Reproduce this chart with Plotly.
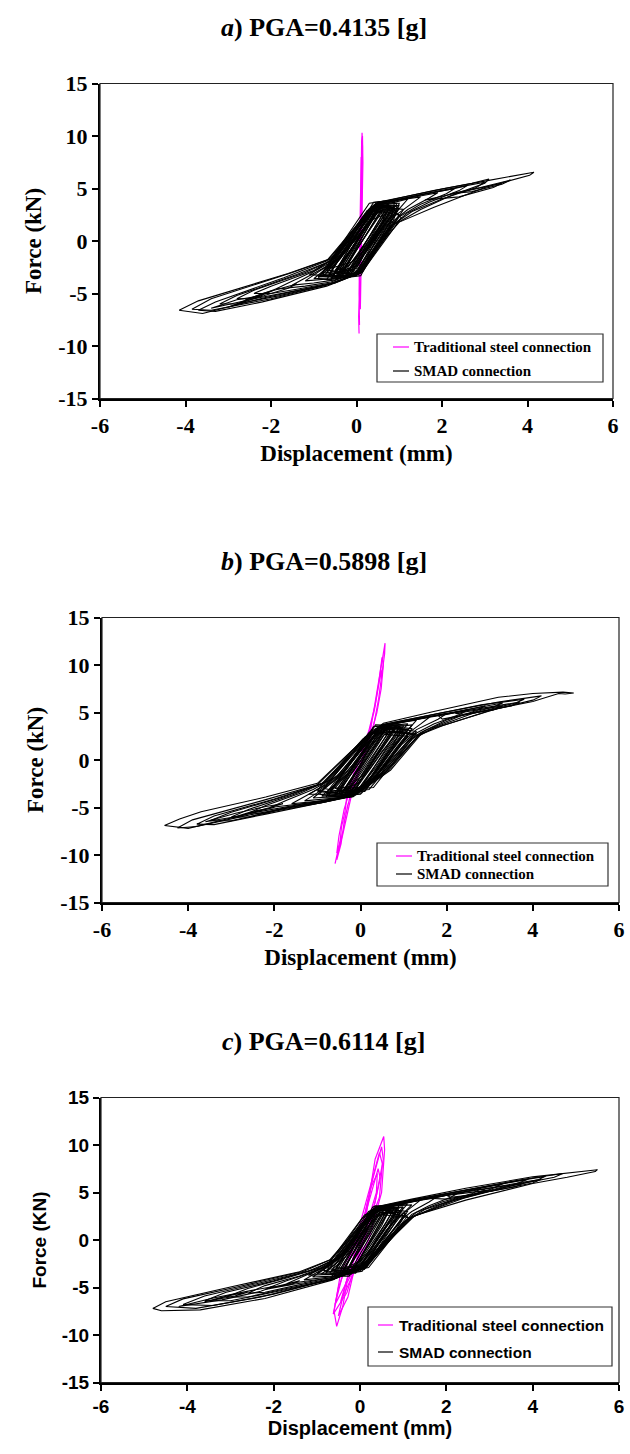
import plotly.graph_objects as go

W, H = 630, 1454

# ---------------- data ----------------
TICK_X = [-6, -4, -2, 0, 2, 4, 6]
TICK_Y = [-15, -10, -5, 0, 5, 10, 15]
TITLES = ["<i>a</i>) PGA=0.4135 [g]", "<i>b</i>) PGA=0.5898 [g]", "<i>c</i>) PGA=0.6114 [g]"]
Y_TITLES = ["Force (kN)", "Force (kN)", "Force (KN)"]
X_TITLE = "Displacement (mm)"
SERIES_NAMES = ["Traditional steel connection", "SMAD connection"]

# Panel a: SMAD loops (displacement mm, force kN)
A_SMAD = [
    [(-4.15,-6.6),(-3.7,-5.7),(-1.6,-3.1),(-0.65,-1.75),(0.5,3.7),(2.0,4.95),(3.0,5.7),(3.9,6.4),(4.15,6.55),(4.05,6.25),(3.0,5.1),(1.8,3.2),(1.0,1.8),(0.7,0.4),(0.05,-3.1),(-0.55,-4.0),(-2.1,-5.35),(-3.6,-6.9),(-4.15,-6.6)],
    [(-3.85,-6.5),(-3.4,-5.5),(-1.5,-3.0),(-0.6,-1.7),(0.45,3.6),(1.8,4.8),(2.7,5.5),(3.1,5.9),(3.0,5.5),(2.2,4.3),(1.5,3.0),(0.9,1.6),(0.1,-3.0),(-0.6,-4.1),(-2.0,-5.5),(-3.4,-6.6),(-3.85,-6.5)],
    [(-3.7,-6.6),(-3.3,-5.8),(-1.7,-3.5),(-0.7,-1.9),(0.4,3.4),(1.7,4.6),(2.6,5.3),(3.0,5.6),(2.8,5.1),(2.0,4.0),(1.3,2.8),(0.8,1.4),(0.0,-3.2),(-0.7,-4.3),(-2.2,-5.8),(-3.3,-6.7),(-3.7,-6.6)],
    [(-3.2,-6.0),(-2.8,-5.2),(-1.4,-3.2),(-0.6,-1.9),(0.45,3.5),(1.5,4.4),(2.3,5.0),(2.6,5.3),(2.4,4.8),(1.7,3.7),(1.2,2.7),(0.85,1.5),(0.05,-3.0),(-0.6,-4.1),(-1.8,-5.2),(-2.8,-6.0),(-3.2,-6.0)],
    [(-2.8,-5.5),(-2.4,-4.7),(-1.2,-3.0),(-0.55,-1.8),(0.5,3.6),(1.4,4.3),(2.0,4.8),(2.3,5.0),(2.1,4.5),(1.5,3.5),(1.0,2.3),(0.8,1.3),(0.1,-3.0),(-0.5,-4.0),(-1.5,-4.8),(-2.4,-5.5),(-2.8,-5.5)],
    [(-2.4,-5.0),(-2.0,-4.3),(-1.0,-2.8),(-0.5,-1.6),(0.45,3.5),(1.2,4.1),(1.7,4.5),(1.9,4.6),(1.7,4.1),(1.2,3.0),(0.8,1.7),(0.7,1.0),(0.0,-3.2),(-0.6,-4.0),(-1.4,-4.6),(-2.0,-5.0),(-2.4,-5.0)],
    [(-1.9,-4.6),(-1.5,-3.8),(-0.9,-2.7),(-0.5,-1.8),(0.4,3.3),(1.0,3.9),(1.5,4.2),(1.3,3.6),(0.9,2.4),(0.65,1.2),(0.0,-3.0),(-0.6,-3.9),(-1.2,-4.3),(-1.9,-4.6)],
    [(-1.5,-4.2),(-1.1,-3.3),(-0.6,-2.2),(-0.3,-1.2),(0.5,3.4),(0.9,3.7),(1.2,4.0),(1.05,3.3),(0.75,2.0),(0.5,0.5),(0.1,-2.8),(-0.5,-3.7),(-1.0,-4.0),(-1.5,-4.2)],
    [(-1.2,-3.8),(-0.9,-3.0),(-0.55,-2.0),(0.35,3.0),(0.75,3.5),(0.95,3.6),(0.8,2.6),(0.55,1.0),(0.0,-3.0),(-0.6,-3.6),(-1.2,-3.8)],
    [(-1.0,-3.6),(-0.7,-2.6),(-0.4,-1.6),(0.4,2.9),(0.8,3.3),(0.7,2.2),(0.4,0.5),(-0.1,-2.9),(-0.6,-3.5),(-1.0,-3.6)],
    [(-0.9,-3.4),(-0.6,-2.3),(-0.3,-1.0),(0.3,2.4),(0.7,3.1),(0.85,3.2),(0.6,1.6),(0.3,-0.3),(0.0,-2.6),(-0.5,-3.3),(-0.9,-3.4)],
    [(-0.8,-3.2),(-0.5,-2.0),(0.0,0.2),(0.45,2.8),(0.75,3.0),(0.55,1.3),(0.2,-0.8),(-0.1,-2.5),(-0.5,-3.1),(-0.8,-3.2)],
    [(-0.7,-3.0),(-0.4,-1.8),(0.1,0.8),(0.5,2.7),(0.9,3.0),(0.7,1.8),(0.35,0.0),(0.05,-2.3),(-0.4,-2.9),(-0.7,-3.0)],
    [(-0.6,-2.6),(-0.3,-1.2),(0.2,1.4),(0.55,3.0),(0.65,2.0),(0.3,-0.4),(-0.1,-2.0),(-0.6,-2.6)],
    [(-1.1,-3.2),(-0.7,-2.1),(-0.2,0.0),(0.3,2.6),(0.6,3.2),(1.0,3.4),(0.9,2.7),(0.6,1.0),(0.2,-1.2),(-0.2,-2.8),(-0.7,-3.3),(-1.1,-3.2)],
    [(-0.5,-2.8),(-0.1,-0.6),(0.35,2.0),(0.7,2.6),(0.5,1.2),(0.1,-1.0),(-0.2,-2.4),(-0.5,-2.8)],
    [(-0.85,-3.4),(0.35,3.3),(0.6,3.6),(-0.55,-3.3),(-0.85,-3.4)],
    [(-0.75,-3.3),(0.4,3.0),(0.7,3.4),(-0.45,-3.5),(-0.75,-3.3)],
    [(-0.65,-3.2),(0.45,3.2),(0.8,3.3),(-0.35,-3.4),(-0.65,-3.2)],
    [(-0.55,-3.4),(0.55,3.5),(0.85,3.2),(-0.25,-3.3),(-0.55,-3.4)],
    [(-0.45,-3.3),(0.6,3.4),(0.9,3.0),(-0.15,-3.2),(-0.45,-3.3)],
    [(-0.35,-3.1),(0.65,3.3),(0.95,2.8),(-0.05,-3.1),(-0.35,-3.1)],
    [(-0.25,-3.2),(0.7,3.1),(1.0,2.5),(0.0,-3.0),(-0.25,-3.2)],
    [(-0.7,-2.8),(0.25,2.9),(0.55,3.4),(-0.3,-2.9),(-0.7,-2.8)],
    [(-0.6,-2.9),(0.3,3.1),(0.75,3.5),(-0.2,-3.0),(-0.6,-2.9)],
    [(-0.5,-3.0),(0.4,3.4),(0.9,3.4),(-0.1,-3.1),(-0.5,-3.0)],
    [(-0.4,-2.7),(0.5,3.0),(1.0,3.1),(0.05,-2.9),(-0.4,-2.7)],
    [(-0.8,-3.0),(0.2,2.6),(0.45,3.0),(-0.4,-3.1),(-0.8,-3.0)],
    [(-0.3,-2.9),(0.55,2.8),(0.85,2.6),(-0.1,-2.7),(-0.3,-2.9)],
    [(-0.9,-3.6),(0.3,3.6),(0.65,3.8),(-0.6,-3.7),(-0.9,-3.6)],
    [(-0.2,-3.3),(0.75,3.2),(1.05,2.2),(0.1,-3.1),(-0.2,-3.3)],
    [(-0.5,-3.5),(0.5,3.6),(1.0,3.6),(0.85,1.8),(0.05,-3.2),(-0.5,-3.5)],
    [(-0.6,-3.6),(0.45,3.5),(0.95,3.3),(0.75,1.2),(0.0,-3.3),(-0.6,-3.6)],
    [(-0.4,-3.4),(0.55,3.3),(1.1,3.0),(0.9,1.8),(0.15,-2.9),(-0.4,-3.4)],
    [(-0.7,-3.7),(0.4,3.7),(0.9,3.9),(0.8,2.0),(0.1,-3.3),(-0.7,-3.7)],
    [(1.6,3.9),(2.5,4.7),(3.4,5.5),(3.2,5.1),(2.4,4.2),(1.6,3.9)],
    [(2.2,4.5),(2.9,5.1),(3.6,5.8),(3.4,5.4),(2.7,4.7),(2.2,4.5)],
    [(-3.0,-6.3),(-2.2,-5.0),(-1.4,-4.1),(-1.6,-4.5),(-2.4,-5.5),(-3.0,-6.3)],
    [(-2.6,-5.6),(-1.9,-4.6),(-2.1,-5.0),(-2.6,-5.6)],
    [(-3.4,-6.4),(-2.8,-5.6),(-2.2,-5.2),(-2.5,-5.6),(-3.4,-6.4)],
]
# Panel a: traditional connection (nearly vertical line)
A_TRAD = [
    [(0.06,-8.8),(0.05,-7.2),(0.08,-3.0),(0.11,2.0),(0.12,6.0),(0.12,8.5),(0.13,10.3),(0.14,9.0),(0.13,5.0),(0.11,0.0),(0.08,-4.0),(0.06,-7.6),(0.07,-6.0),(0.10,-1.0),(0.12,4.0),(0.11,8.0),(0.10,6.5),(0.08,1.0),(0.06,-5.0),(0.07,-8.0)],
    [(0.09,-6.5),(0.12,1.5),(0.15,7.5),(0.14,10.0),(0.12,9.5),(0.10,3.0),(0.07,-3.5),(0.09,-6.5)],
]

# Panel b: SMAD loops
B_SMAD = [
    [(-4.55,-6.9),(-4.2,-6.2),(-3.7,-5.45),(-2.2,-3.9),(-1.0,-2.45),(0.14,2.45),(0.53,3.86),(1.7,5.1),(3.2,6.6),(4.0,7.0),(4.7,7.15),(4.95,7.05),(4.75,6.95),(4.6,7.0),(4.0,6.15),(3.2,5.45),(1.7,3.35),(1.42,2.8),(0.7,-1.05),(-0.17,-3.86),(-0.63,-4.05),(-2.55,-5.6),(-4.0,-7.2),(-4.55,-6.9)],
    [(-4.25,-7.15),(-3.9,-6.3),(-2.3,-4.3),(-1.0,-2.6),(0.1,2.3),(0.5,3.7),(1.8,4.9),(3.2,6.1),(4.2,6.75),(4.0,6.3),(3.0,5.2),(1.9,3.6),(1.35,2.6),(0.6,-1.2),(-0.25,-3.9),(-0.7,-4.2),(-2.6,-5.8),(-3.8,-7.0),(-4.25,-7.15)],
    [(-3.8,-6.75),(-3.4,-5.9),(-2.0,-4.1),(-0.9,-2.5),(0.2,2.6),(0.55,3.75),(1.6,4.7),(2.8,5.8),(3.8,6.4),(3.6,6.0),(2.6,4.9),(1.7,3.4),(1.3,2.4),(0.55,-1.3),(-0.2,-3.8),(-0.8,-4.4),(-2.2,-5.7),(-3.4,-6.8),(-3.8,-6.75)],
    [(-3.5,-6.4),(-3.0,-5.5),(-1.8,-3.9),(-0.85,-2.4),(0.15,2.4),(0.5,3.6),(1.5,4.5),(2.6,5.4),(3.3,6.0),(3.1,5.6),(2.3,4.6),(1.5,3.1),(1.2,2.2),(0.5,-1.4),(-0.25,-3.9),(-0.9,-4.5),(-2.0,-5.4),(-3.0,-6.4),(-3.5,-6.4)],
    [(-3.0,-6.0),(-2.6,-5.2),(-1.6,-3.7),(-0.8,-2.3),(0.2,2.6),(0.55,3.7),(1.4,4.4),(2.3,5.1),(2.9,5.7),(2.7,5.2),(2.0,4.2),(1.4,2.9),(1.1,2.0),(0.45,-1.5),(-0.2,-3.8),(-0.9,-4.4),(-1.9,-5.2),(-2.6,-6.0),(-3.0,-6.0)],
    [(-2.6,-5.6),(-2.2,-4.8),(-1.4,-3.5),(-0.75,-2.2),(0.1,2.2),(0.5,3.6),(1.3,4.3),(2.0,4.8),(2.5,5.3),(2.3,4.8),(1.7,3.8),(1.2,2.6),(0.95,1.6),(0.4,-1.6),(-0.3,-3.9),(-0.9,-4.5),(-1.7,-5.0),(-2.2,-5.6),(-2.6,-5.6)],
    [(-2.1,-5.0),(-1.7,-4.2),(-1.1,-3.1),(-0.7,-2.1),(0.2,2.5),(0.5,3.5),(1.1,4.1),(1.6,4.5),(2.0,4.9),(1.8,4.3),(1.3,3.2),(1.0,2.0),(0.8,1.0),(0.35,-1.7),(-0.2,-3.7),(-0.8,-4.3),(-1.5,-4.7),(-2.1,-5.0)],
    [(-1.6,-4.6),(-1.2,-3.6),(-0.8,-2.6),(-0.5,-1.5),(0.25,2.7),(0.55,3.6),(1.1,4.1),(1.6,4.5),(1.4,3.8),(1.1,2.8),(0.85,1.4),(0.3,-1.9),(-0.3,-3.8),(-0.9,-4.3),(-1.6,-4.6)],
    [(-1.3,-4.3),(-0.95,-3.3),(-0.6,-2.2),(-0.3,-0.8),(0.3,2.8),(0.6,3.7),(1.0,4.0),(1.3,4.2),(1.15,3.4),(0.9,2.2),(0.6,0.6),(0.2,-2.2),(-0.35,-3.9),(-0.8,-4.1),(-1.3,-4.3)],
    [(-1.1,-4.0),(-0.8,-2.9),(-0.4,-1.3),(0.1,1.5),(0.45,3.3),(0.8,3.7),(1.1,3.8),(0.95,3.0),(0.7,1.5),(0.35,-0.8),(0.0,-2.8),(-0.4,-3.8),(-1.1,-4.0)],
    [(-0.9,-3.8),(-0.6,-2.6),(-0.2,-0.6),(0.2,1.9),(0.5,3.2),(0.9,3.5),(0.75,2.4),(0.45,0.5),(0.1,-1.6),(-0.15,-3.3),(-0.5,-3.7),(-0.9,-3.8)],
    [(-0.8,-3.5),(-0.45,-2.0),(-0.05,0.2),(0.35,2.6),(0.7,3.3),(0.95,3.4),(0.8,2.5),(0.5,0.9),(0.15,-1.3),(-0.2,-3.2),(-0.8,-3.5)],
    [(-0.7,-3.3),(-0.3,-1.4),(0.1,1.0),(0.45,2.8),(0.8,3.1),(0.6,1.8),(0.25,-0.4),(-0.05,-2.4),(-0.4,-3.2),(-0.7,-3.3)],
    [(-1.2,-3.6),(-0.9,-2.8),(-0.55,-1.7),(-0.1,0.6),(0.3,2.5),(0.65,3.4),(1.2,3.7),(1.05,2.9),(0.75,1.2),(0.4,-1.0),(0.0,-3.0),(-0.55,-3.6),(-1.2,-3.6)],
    [(-0.6,-3.0),(-0.2,-0.9),(0.2,1.4),(0.55,2.9),(0.7,2.6),(0.4,0.6),(0.05,-1.6),(-0.25,-2.8),(-0.6,-3.0)],
    [(-1.0,-3.3),(-0.7,-2.4),(-0.35,-1.0),(0.05,1.2),(0.4,3.0),(0.75,3.6),(1.0,3.2),(0.8,2.0),(0.5,0.0),(0.2,-2.0),(-0.1,-3.4),(-0.6,-3.5),(-1.0,-3.3)],
    [(-0.95,-3.6),(0.2,2.9),(0.5,3.7),(-0.6,-3.8),(-0.95,-3.6)],
    [(-0.8,-3.5),(0.3,3.0),(0.65,3.6),(-0.45,-3.7),(-0.8,-3.5)],
    [(-0.7,-3.3),(0.35,3.2),(0.8,3.5),(-0.3,-3.8),(-0.7,-3.3)],
    [(-0.6,-3.5),(0.45,3.4),(0.95,3.3),(-0.15,-3.7),(-0.6,-3.5)],
    [(-0.5,-3.4),(0.5,3.3),(1.05,3.1),(0.0,-3.5),(-0.5,-3.4)],
    [(-0.4,-3.2),(0.55,3.1),(1.15,2.9),(0.1,-3.3),(-0.4,-3.2)],
    [(-0.3,-3.3),(0.6,3.0),(1.25,2.7),(0.2,-3.1),(-0.3,-3.3)],
    [(-0.85,-3.0),(0.1,2.4),(0.45,3.3),(-0.35,-3.4),(-0.85,-3.0)],
    [(-0.65,-2.9),(0.25,2.7),(0.7,3.3),(-0.2,-3.2),(-0.65,-2.9)],
    [(-0.55,-3.1),(0.4,3.1),(0.9,3.4),(-0.05,-3.4),(-0.55,-3.1)],
    [(-0.45,-2.9),(0.5,2.9),(1.0,3.0),(0.05,-3.0),(-0.45,-2.9)],
    [(-0.35,-3.0),(0.55,2.7),(1.1,2.5),(0.15,-2.8),(-0.35,-3.0)],
    [(-1.0,-3.2),(0.05,2.2),(0.4,3.2),(-0.5,-3.5),(-1.0,-3.2)],
    [(-0.25,-3.1),(0.65,2.9),(1.3,2.8),(0.3,-2.9),(-0.25,-3.1)],
    [(-0.75,-3.8),(0.3,3.5),(0.85,3.7),(-0.25,-3.9),(-0.75,-3.8)],
    [(-0.2,-3.7),(0.7,3.0),(1.35,2.6),(0.65,-1.1),(-0.1,-3.6),(-0.2,-3.7)],
    [(-0.6,-3.8),(0.45,3.6),(1.2,3.3),(0.9,1.6),(0.5,-1.3),(0.0,-3.6),(-0.6,-3.8)],
    [(-0.45,-3.6),(0.55,3.5),(1.3,3.0),(0.8,0.5),(0.3,-2.0),(-0.15,-3.7),(-0.45,-3.6)],
    [(-0.35,-3.5),(0.6,3.4),(1.1,3.2),(0.7,0.8),(0.2,-2.4),(-0.1,-3.5),(-0.35,-3.5)],
    [(-0.8,-3.9),(0.35,3.7),(1.0,3.6),(0.75,1.5),(0.35,-1.2),(-0.2,-3.9),(-0.8,-3.9)],
    [(1.8,4.7),(2.6,5.3),(3.4,5.9),(3.7,6.1),(3.5,5.7),(2.7,5.0),(1.9,4.3),(1.8,4.7)],
    [(2.2,4.9),(3.0,5.5),(3.3,5.7),(3.1,5.3),(2.4,4.8),(2.2,4.9)],
    [(-3.6,-6.5),(-2.9,-5.6),(-2.2,-4.9),(-1.8,-4.6),(-2.1,-5.0),(-2.8,-5.9),(-3.6,-6.5)],
    [(-3.0,-6.1),(-2.5,-5.4),(-2.0,-5.0),(-2.3,-5.3),(-3.0,-6.1)],
]
# Panel b: traditional connection
B_TRAD = [
    [(-0.59,-10.9),(-0.52,-9.6),(-0.47,-8.4),(-0.44,-7.0),(-0.36,-5.5),(-0.32,-3.9),(-0.1,-0.5),(0.22,2.8),(0.3,4.9),(0.36,6.5),(0.4,7.5),(0.45,9.0),(0.5,10.3),(0.55,11.5),(0.57,12.3),(0.56,11.2),(0.52,9.8),(0.47,8.2),(0.42,6.4),(0.3,3.5),(0.0,-0.5),(-0.3,-4.8),(-0.4,-7.4),(-0.48,-9.2),(-0.55,-10.5),(-0.52,-10.0),(-0.45,-8.8),(-0.38,-6.5),(-0.2,-3.0),(0.1,1.0),(0.32,5.2),(0.44,8.4),(0.5,9.5)],
    [(-0.55,-9.8),(-0.5,-8.0),(-0.38,-5.2),(-0.1,-1.0),(0.2,3.2),(0.34,5.8),(0.42,8.0),(0.5,10.8),(0.53,10.0),(0.48,7.5),(0.38,5.0),(0.15,1.2),(-0.2,-3.5),(-0.42,-8.0),(-0.55,-9.8)],
]

# Panel c: SMAD loops
C_SMAD = [
    [(-4.8,-7.2),(-4.5,-6.5),(-2.95,-4.9),(-1.4,-3.35),(-0.7,-2.1),(-0.17,0.7),(0.38,3.5),(1.2,4.3),(2.45,5.45),(4.0,6.65),(5.0,7.2),(5.5,7.4),(5.45,7.2),(4.8,6.6),(4.0,5.95),(2.45,4.2),(1.3,2.6),(1.2,2.3),(0.84,0.7),(0.14,-2.8),(-0.48,-3.85),(-0.63,-4.2),(-2.2,-6.15),(-3.7,-7.35),(-4.6,-7.45),(-4.8,-7.2)],
    [(-4.5,-7.0),(-4.1,-6.2),(-2.8,-4.9),(-1.3,-3.3),(-0.65,-2.0),(-0.1,0.9),(0.4,3.5),(1.3,4.3),(2.6,5.4),(3.8,6.4),(4.7,7.0),(4.5,6.6),(3.6,5.8),(2.4,4.4),(1.25,2.5),(0.8,0.5),(0.1,-2.9),(-0.5,-3.9),(-2.3,-6.0),(-3.8,-7.2),(-4.5,-7.0)],
    [(-4.1,-6.8),(-3.6,-5.9),(-2.4,-4.6),(-1.2,-3.3),(-0.6,-2.1),(-0.1,0.8),(0.35,3.4),(1.2,4.2),(2.5,5.3),(3.6,6.2),(4.3,6.7),(4.1,6.3),(3.3,5.5),(2.2,4.2),(1.2,2.4),(0.75,0.4),(0.05,-3.0),(-0.55,-4.0),(-2.0,-5.7),(-3.4,-6.9),(-4.1,-6.8)],
    [(-3.6,-6.4),(-3.1,-5.5),(-2.0,-4.3),(-1.0,-3.0),(-0.55,-1.9),(0.0,1.2),(0.4,3.4),(1.1,4.0),(2.3,5.1),(3.3,5.9),(3.9,6.4),(3.6,5.9),(2.8,5.0),(1.9,3.8),(1.1,2.2),(0.7,0.2),(0.0,-3.1),(-0.6,-4.1),(-1.9,-5.4),(-3.0,-6.4),(-3.6,-6.4)],
    [(-3.1,-6.0),(-2.6,-5.1),(-1.7,-4.0),(-0.9,-2.9),(-0.5,-1.8),(0.05,1.4),(0.35,3.3),(1.1,4.0),(2.2,4.9),(3.3,5.9),(3.0,5.3),(2.2,4.3),(1.5,3.2),(1.05,2.0),(0.6,-0.1),(0.0,-3.0),(-0.6,-4.1),(-1.7,-5.1),(-2.6,-6.0),(-3.1,-6.0)],
    [(-2.6,-5.6),(-2.2,-4.8),(-1.4,-3.8),(-0.8,-2.8),(-0.45,-1.6),(0.1,1.7),(0.4,3.4),(1.0,3.9),(1.9,4.6),(2.8,5.4),(2.6,4.9),(1.9,4.0),(1.3,2.9),(0.95,1.6),(0.5,-0.6),(-0.05,-3.1),(-0.6,-4.0),(-1.5,-4.8),(-2.2,-5.5),(-2.6,-5.6)],
    [(-2.1,-5.0),(-1.7,-4.3),(-1.1,-3.4),(-0.7,-2.6),(-0.35,-1.2),(0.15,2.0),(0.45,3.4),(1.0,3.9),(1.7,4.4),(2.3,5.0),(2.1,4.5),(1.6,3.6),(1.2,2.7),(0.9,1.2),(0.45,-1.0),(-0.1,-3.2),(-0.6,-3.9),(-1.3,-4.5),(-2.1,-5.0)],
    [(-1.7,-4.6),(-1.3,-3.8),(-0.9,-3.0),(-0.6,-2.2),(-0.2,-0.4),(0.2,2.4),(0.45,3.4),(1.0,3.8),(1.8,4.6),(1.6,4.0),(1.2,3.0),(1.0,2.3),(0.7,0.6),(0.3,-1.5),(-0.15,-3.4),(-0.7,-4.0),(-1.2,-4.3),(-1.7,-4.6)],
    [(-1.3,-4.2),(-1.0,-3.4),(-0.65,-2.5),(-0.3,-1.0),(0.1,1.6),(0.4,3.2),(0.8,3.7),(1.4,4.2),(1.2,3.5),(0.95,2.6),(0.7,1.1),(0.3,-1.2),(-0.2,-3.5),(-0.7,-3.9),(-1.3,-4.2)],
    [(-1.1,-3.9),(-0.8,-3.0),(-0.45,-1.8),(-0.1,0.3),(0.25,2.6),(0.5,3.4),(0.9,3.7),(1.1,3.8),(0.95,3.0),(0.8,2.1),(0.55,0.6),(0.2,-1.6),(-0.25,-3.6),(-0.6,-3.8),(-1.1,-3.9)],
    [(-0.9,-3.6),(-0.6,-2.6),(-0.25,-1.0),(0.1,1.5),(0.35,3.0),(0.7,3.4),(0.9,3.3),(0.75,2.4),(0.5,0.8),(0.2,-1.2),(-0.15,-3.2),(-0.5,-3.6),(-0.9,-3.6)],
    [(-0.8,-3.4),(-0.45,-2.1),(-0.1,-0.2),(0.25,2.2),(0.55,3.1),(0.85,3.2),(0.7,2.0),(0.4,0.0),(0.05,-2.0),(-0.25,-3.3),(-0.8,-3.4)],
    [(-0.65,-3.2),(-0.3,-1.6),(0.05,0.6),(0.35,2.4),(0.65,2.9),(0.5,1.5),(0.2,-0.6),(-0.1,-2.6),(-0.4,-3.2),(-0.65,-3.2)],
    [(-1.2,-3.7),(-0.85,-2.9),(-0.5,-2.0),(-0.2,-0.3),(0.2,2.1),(0.45,3.2),(0.85,3.6),(1.2,3.7),(1.0,2.8),(0.85,2.2),(0.6,1.0),(0.3,-1.0),(-0.1,-3.3),(-0.55,-3.6),(-1.2,-3.7)],
    [(-0.55,-3.0),(-0.2,-1.0),(0.15,1.2),(0.45,2.7),(0.75,3.0),(0.6,1.8),(0.3,-0.2),(0.0,-2.2),(-0.3,-2.9),(-0.55,-3.0)],
    [(-1.0,-3.5),(-0.7,-2.7),(-0.4,-1.6),(0.0,0.6),(0.3,2.6),(0.55,3.3),(1.0,3.5),(0.85,2.7),(0.65,1.6),(0.35,-0.4),(0.05,-2.6),(-0.35,-3.5),(-1.0,-3.5)],
    [(-0.8,-3.6),(0.2,3.0),(0.45,3.5),(-0.45,-3.7),(-0.8,-3.6)],
    [(-0.7,-3.5),(0.25,3.1),(0.6,3.5),(-0.35,-3.6),(-0.7,-3.5)],
    [(-0.6,-3.3),(0.3,3.2),(0.7,3.4),(-0.2,-3.6),(-0.6,-3.3)],
    [(-0.5,-3.4),(0.4,3.4),(0.85,3.3),(-0.1,-3.5),(-0.5,-3.4)],
    [(-0.4,-3.2),(0.45,3.2),(0.95,3.0),(0.0,-3.3),(-0.4,-3.2)],
    [(-0.3,-3.3),(0.5,3.1),(1.05,2.8),(0.1,-3.1),(-0.3,-3.3)],
    [(-0.2,-3.1),(0.55,2.9),(1.1,2.5),(0.15,-2.9),(-0.2,-3.1)],
    [(-0.75,-3.0),(0.1,2.6),(0.4,3.3),(-0.3,-3.3),(-0.75,-3.0)],
    [(-0.55,-2.9),(0.2,2.8),(0.65,3.3),(-0.15,-3.1),(-0.55,-2.9)],
    [(-0.45,-3.0),(0.35,3.1),(0.8,3.4),(-0.05,-3.2),(-0.45,-3.0)],
    [(-0.35,-2.8),(0.45,2.9),(0.9,2.9),(0.05,-2.9),(-0.35,-2.8)],
    [(-0.25,-2.9),(0.5,2.7),(1.0,2.4),(0.1,-2.7),(-0.25,-2.9)],
    [(-0.85,-3.2),(0.05,2.3),(0.35,3.2),(-0.4,-3.5),(-0.85,-3.2)],
    [(-0.65,-3.8),(0.3,3.5),(0.75,3.6),(-0.25,-3.8),(-0.65,-3.8)],
    [(-0.15,-3.2),(0.6,3.0),(1.15,2.3),(0.8,0.6),(0.2,-2.9),(-0.15,-3.2)],
    [(-0.5,-3.7),(0.4,3.5),(1.0,3.4),(0.75,1.4),(0.1,-3.0),(-0.5,-3.7)],
    [(-0.35,-3.5),(0.5,3.3),(1.1,3.0),(0.85,1.2),(0.15,-2.8),(-0.35,-3.5)],
    [(-0.6,-3.8),(0.35,3.6),(0.9,3.6),(0.7,1.6),(0.05,-3.3),(-0.6,-3.8)],
    [(1.6,4.4),(2.6,5.2),(3.8,6.1),(4.2,6.4),(4.0,6.0),(3.0,5.1),(2.0,4.3),(1.6,4.4)],
    [(2.8,5.3),(3.5,5.8),(3.8,6.0),(3.6,5.6),(3.0,5.1),(2.8,5.3)],
    [(2.0,4.7),(2.6,5.0),(2.9,5.2),(2.7,4.8),(2.1,4.5),(2.0,4.7)],
    [(-4.2,-7.0),(-3.4,-6.1),(-2.5,-5.3),(-2.0,-4.9),(-2.3,-5.4),(-3.2,-6.3),(-4.2,-7.0)],
    [(-3.6,-6.5),(-3.0,-5.8),(-2.6,-5.5),(-2.9,-5.9),(-3.6,-6.5)],
    [(-2.2,-5.2),(-1.7,-4.6),(-1.4,-4.3),(-1.6,-4.7),(-2.2,-5.2)],
]
# Panel c: traditional connection
C_TRAD = [
    [(-0.54,-9.1),(-0.6,-7.5),(-0.45,-3.5),(0.15,2.8),(0.35,8.5),(0.55,10.9),(0.57,9.5),(0.5,5.0),(0.2,0.0),(-0.3,-4.5),(-0.4,-7.0),(-0.54,-9.1)],
    [(-0.62,-7.8),(-0.5,-5.0),(-0.1,0.0),(0.22,5.4),(0.45,9.2),(0.52,8.0),(0.45,4.5),(0.0,-1.0),(-0.3,-5.5),(-0.62,-7.8)],
    [(-0.5,-8.0),(-0.35,-5.0),(0.0,0.5),(0.3,6.5),(0.5,9.8),(0.54,8.5),(0.35,4.0),(-0.05,-1.5),(-0.28,-6.0),(-0.5,-8.0)],
    [(-0.45,-6.5),(-0.2,-2.5),(0.2,4.0),(0.42,7.5),(0.47,6.5),(0.25,2.0),(-0.15,-3.5),(-0.45,-6.5)],
    [(-0.58,-6.8),(-0.42,-4.0),(0.05,1.5),(0.26,5.6),(0.4,7.0),(0.38,5.0),(0.1,0.8),(-0.35,-4.8),(-0.58,-6.8)],
]

# ---------------- figure ----------------
SERIF = "Liberation Serif"
SANS = "Liberation Sans"
PINK = "#FF00FF"

# panel boxes in window pixels: (left, right, top, bottom)
BOXES = [(100, 613, 83.5, 398.5), (102, 619, 617.5, 902.5), (101, 619, 1097.5, 1382.5)]
FONTS = [SERIF, SERIF, SANS]


def flat(loops):
    xs, ys = [], []
    for lp in loops:
        for x, y in lp:
            xs.append(x)
            ys.append(y)
        xs.append(None)
        ys.append(None)
    return xs, ys


fig = go.Figure()
panels = [(A_TRAD, A_SMAD), (B_TRAD, B_SMAD), (C_TRAD, C_SMAD)]
for i, (trad, smad) in enumerate(panels):
    sfx = "" if i == 0 else str(i + 1)
    sx, sy = flat(smad)
    tx, ty = flat(trad)
    fig.add_trace(go.Scatter(x=tx, y=ty, mode="lines", name=SERIES_NAMES[0],
                             line=dict(color=PINK, width=1.2),
                             xaxis="x" + sfx, yaxis="y" + sfx, showlegend=False))
    fig.add_trace(go.Scatter(x=sx, y=sy, mode="lines", name=SERIES_NAMES[1],
                             line=dict(color="black", width=1.1),
                             xaxis="x" + sfx, yaxis="y" + sfx, showlegend=False))

layout = dict(width=W, height=H, margin=dict(l=0, r=0, t=0, b=0, autoexpand=False),
              paper_bgcolor="white", plot_bgcolor="white", showlegend=False)

shapes = []
annotations = []


def px(x):
    return x / W


def py(y):
    return 1 - y / H


for i, (l, r, t, b) in enumerate(BOXES):
    sfx = "" if i == 0 else str(i + 1)
    fam = FONTS[i]
    tsize = 22 if fam == SERIF else 19
    axis_common = dict(showgrid=False, zeroline=False, showline=True, automargin=False,
                       linecolor="black", linewidth=2, ticks="outside",
                       ticklen=6, tickwidth=1.5, tickcolor="black",
                       tickfont=dict(family=fam, size=tsize, color="black", weight="bold"))
    layout["xaxis" + sfx] = dict(axis_common, domain=[px(l), px(r)], range=[-6, 6],
                                 tickvals=TICK_X, ticktext=[str(v) for v in TICK_X],
                                 anchor="y" + sfx,
                                 title=dict(text=X_TITLE, standoff=8 if fam == SERIF else 0,
                                            font=dict(family=fam, size=23 if fam == SERIF else 20,
                                                      color="black", weight="bold")))
    layout["yaxis" + sfx] = dict(axis_common, domain=[py(b), py(t)], range=[-15, 15],
                                 tickvals=TICK_Y, ticktext=[str(v) for v in TICK_Y],
                                 anchor="x" + sfx,
                                 title=dict(text=Y_TITLES[i], standoff=10,
                                            font=dict(family=fam, size=23 if fam == SERIF else 19,
                                                      color="black", weight="bold")))
    # thin full frame
    shapes.append(dict(type="rect", xref="x" + sfx + " domain", yref="y" + sfx + " domain",
                       x0=0, x1=1, y0=0, y1=1, line=dict(color="#222", width=1.2)))
    # panel title
    annotations.append(dict(text="<b>" + TITLES[i] + "</b>", xref="paper", yref="paper",
                            x=px(324), y=py(t - 56), xanchor="center", yanchor="middle",
                            showarrow=False, font=dict(family=SERIF, size=26, color="black")))

# manual legends: (box left, right, top, bottom, row1 y, row2 y, line x0, x1, text x, font size)
LEGENDS = [
    (377, 603, 334, 382, 347, 371, 393, 409, 412, 15),
    (377, 608, 843, 886, 856, 874, 396, 412, 415, 15),
    (368, 612, 1307, 1366, 1325, 1352, 378, 393, 397, 15.5),
]
for i, (l, r, t, b, r1, r2, lx0, lx1, tx, fs) in enumerate(LEGENDS):
    fam = FONTS[i]
    shapes.append(dict(type="rect", xref="paper", yref="paper", x0=px(l), x1=px(r),
                       y0=py(b), y1=py(t), line=dict(color="#333", width=1.2),
                       fillcolor="white", layer="above"))
    for row_y, col, name in [(r1, PINK, SERIES_NAMES[0]), (r2, "black", SERIES_NAMES[1])]:
        shapes.append(dict(type="line", xref="paper", yref="paper", x0=px(lx0), x1=px(lx1),
                           y0=py(row_y), y1=py(row_y), line=dict(color=col, width=1.2)))
        annotations.append(dict(text="<b>" + name + "</b>", xref="paper", yref="paper",
                                x=px(tx), y=py(row_y), xanchor="left", yanchor="middle",
                                showarrow=False,
                                font=dict(family=fam, size=fs, color="black")))

layout["shapes"] = shapes
layout["annotations"] = annotations
fig.update_layout(**layout)

# remove the default 8px page margin so the figure fills the window exactly
fig.write_html("out.html",
               config={"displayModeBar": False},
               post_script="document.body.style.margin='0px';"
                           "document.body.style.overflow='hidden';")
